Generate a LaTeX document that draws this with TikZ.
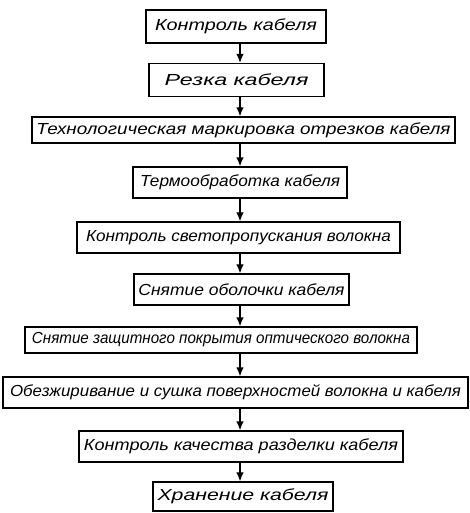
\documentclass[tikz,border=0pt]{standalone}
\usepackage{fontspec}
\setmainfont{Liberation Sans}
\usepackage{graphicx}
\usetikzlibrary{arrows.meta}
\newcommand{\stagetext}[2]{\resizebox{#1}{\height}{#2}}
\begin{document}
\begin{tikzpicture}[x=1pt,y=-1pt,
  stage/.style={draw=black, line width=1.3pt, inner sep=0pt, align=center,
    font=\fontsize{16}{18}\selectfont\itshape},
  flow/.style={draw=black, line width=1.2pt, -{Latex[length=9pt,width=7.5pt]}}]
\useasboundingbox (0,0) rectangle (470,513);
\coordinate (ax) at (240,0);
\node[stage, minimum width=180pt, minimum height=33pt] (b1) at (236,26.5) {\stagetext{162pt}{Контроль кабеля}};
\node[stage, minimum width=175pt, minimum height=33pt] (b2) at (236.5,80) {\stagetext{144pt}{Резка кабеля}};
\node[stage, minimum width=423pt, minimum height=26pt] (b3) at (243.5,130) {\stagetext{414pt}{Технологическая маркировка отрезков кабеля}};
\node[stage, minimum width=214pt, minimum height=31pt] (b4) at (240,182.5) {\stagetext{200pt}{Термообработка кабеля}};
\node[stage, minimum width=323pt, minimum height=31pt] (b5) at (238.5,237.5) {\stagetext{305pt}{Контроль светопропускания волокна}};
\node[stage, minimum width=215pt, minimum height=31pt] (b6) at (241.5,289.5) {\stagetext{206pt}{Снятие оболочки кабеля}};
\node[stage, minimum width=392pt, minimum height=26pt] (b7) at (221,340) {\stagetext{378pt}{Снятие защитного покрытия оптического волокна}};
\node[stage, minimum width=465pt, minimum height=31pt] (b8) at (235.5,392.5) {\stagetext{451pt}{Обезжиривание и сушка поверхностей волокна и кабеля}};
\node[stage, minimum width=324pt, minimum height=31pt] (b9) at (241,446.5) {\stagetext{314pt}{Контроль качества разделки кабеля}};
\node[stage, minimum width=180pt, minimum height=29pt] (b10) at (243,496.5) {\stagetext{171pt}{Хранение кабеля}};
\draw[flow] (b1.south -| ax) -- (b2.north -| ax);
\draw[flow] (b2.south -| ax) -- (b3.north -| ax);
\draw[flow] (b3.south -| ax) -- (b4.north -| ax);
\draw[flow] (b4.south -| ax) -- (b5.north -| ax);
\draw[flow] (b5.south -| ax) -- (b6.north -| ax);
\draw[flow] (b6.south -| ax) -- (b7.north -| ax);
\draw[flow] (b7.south -| ax) -- (b8.north -| ax);
\draw[flow] (b8.south -| ax) -- (b9.north -| ax);
\draw[flow] (b9.south -| ax) -- (b10.north -| ax);
\end{tikzpicture}
\end{document}
